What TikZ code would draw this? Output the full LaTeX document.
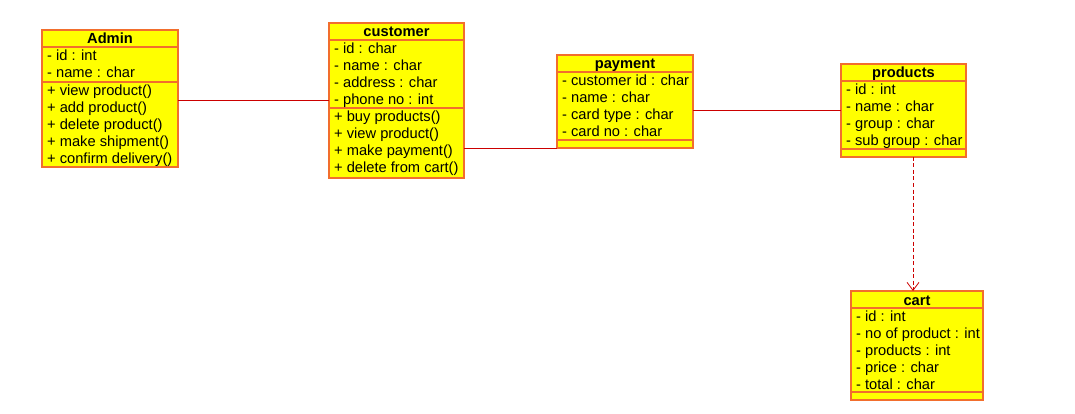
\documentclass[tikz,border=0pt]{standalone}
\usepackage{fontspec}
\setmainfont{Liberation Sans}
\usetikzlibrary{arrows.meta}
\definecolor{classfill}{RGB}{255,255,0}
\definecolor{classline}{RGB}{242,110,45}
\definecolor{linkred}{RGB}{204,0,0}

\begin{document}
\begin{tikzpicture}[x=1pt,y=-1pt,
		font=\fontsize{14.67}{17}\selectfont,
		class box/.style={rectangle,draw=classline,fill=classfill,line width=1.6pt,inner sep=0pt,outer sep=0pt,anchor=north west},
		class name/.style={font=\fontsize{14.67}{17}\selectfont\bfseries,anchor=base,inner sep=0pt},
		member/.style={anchor=base west,inner sep=0pt},
		divider/.style={draw=classline,line width=1.6pt},
		link/.style={draw=linkred,line width=0.8pt},
		depend/.style={link,dash pattern=on 4pt off 2.5pt,-{Straight Barb[length=8pt,width=12pt]}}]
		
		\useasboundingbox (0,0) rectangle (1075,414);
		
		% Admin
		\node[class box,minimum width=136,minimum height=137] (admin) at (42,30) {};
		\node[class name] (admin-name) at (110,44) {Admin};
		\draw[divider] (42,47) -- (178,47) (42,82) -- (178,82);
		\foreach \t [count=\i] in {- id : int, - name : char}
		\node[member] (admin-a\i) at (47,44+17*\i) {\t};
		\foreach \t [count=\i] in {+ view product(), + add product(), + delete product(), + make shipment(), + confirm delivery()}
		\node[member] (admin-m\i) at (47,79+17*\i) {\t};
		
		% customer
		\node[class box,minimum width=135,minimum height=155] (customer) at (329,23) {};
		\node[class name] (customer-name) at (396.5,37) {customer};
		\draw[divider] (329,40) -- (464,40) (329,108) -- (464,108);
		\foreach \t [count=\i] in {- id  : char, - name : char, - address  : char, - phone no : int}
		\node[member] (customer-a\i) at (334,37+17*\i) {\t};
		\foreach \t [count=\i] in {+ buy products(), + view product(), + make payment(), + delete from cart()}
		\node[member] (customer-m\i) at (334,105+17*\i) {\t};
		
		% payment
		\node[class box,minimum width=136,minimum height=93] (payment) at (557,55) {};
		\node[class name] (payment-name) at (625,69) {payment};
		\draw[divider] (557,72) -- (693,72) (557,140) -- (693,140);
		\foreach \t [count=\i] in {- customer id : char, - name : char, - card type : char, - card no : char}
		\node[member] (payment-a\i) at (562,69+17*\i) {\t};
		
		% products
		\node[class box,minimum width=125,minimum height=93] (products) at (841,64) {};
		\node[class name] (products-name) at (903.5,78) {products};
		\draw[divider] (841,81) -- (966,81) (841,149) -- (966,149);
		\foreach \t [count=\i] in {- id : int, - name : char, - group : char, - sub group : char}
		\node[member] (products-a\i) at (846,78+17*\i) {\t};
		
		% cart
		\node[class box,minimum width=132,minimum height=109] (cart) at (851,291) {};
		\node[class name] (cart-name) at (917,305) {cart};
		\draw[divider] (851,308) -- (983,308) (851,392) -- (983,392);
		\foreach \t [count=\i] in {- id  : int, - no of product : int, - products : int, - price : char, - total : char}
		\node[member] (cart-a\i) at (856,305+16.8*\i) {\t};
		
		% associations
		\draw[link] (admin.east |- 0,100) -- (customer.west |- 0,100);
		\draw[link] (customer.east |- 0,148) -- (payment.south west);
		\draw[link] (payment.east |- 0,110) -- (products.west |- 0,110);
		\draw[depend] (products.south -| 913,0) -- (cart.north -| 913,0);
\end{tikzpicture}
\end{document}
